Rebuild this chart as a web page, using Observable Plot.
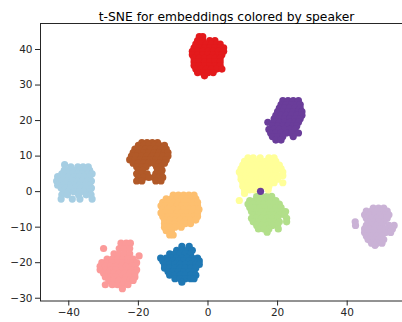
<!DOCTYPE html>
<html><head><meta charset="utf-8">
<script src="https://cdn.jsdelivr.net/npm/d3@7"></script>
<script src="https://cdn.jsdelivr.net/npm/@observablehq/plot@0.6"></script>
<style>
html,body{margin:0;padding:0;background:#fff;overflow:hidden;}
#wrap{width:402px;height:322px;overflow:hidden;}
#wrap svg{max-width:none !important;}
</style></head><body><div id="wrap"></div>
<script>
const title = "t-SNE for embeddings colored by speaker";
const speakers = [0, 1, 2, 3, 4, 5, 6, 7, 8, 9];
const colors = ["#a6cee3", "#1f78b4", "#b2df8a", "#fb9a99", "#e31a1c", "#fdbf6f", "#cab2d6", "#6a3d9a", "#ffff99", "#b15928"];
const xTicks = [-40, -20, 0, 20, 40];
const yTicks = [-30, -20, -10, 0, 10, 20, 30, 40];

// each row: [y, x, x, ...]
const speaker0 = [
  [7.6, -41.2],
  [7.0, -39.4, -37.4, -35.9, -34.4],
  [6, -41.3, -40, -38.5, -37, -35.5, -34],
  [5, -42, -40.5, -39, -37.5, -36, -34.5, -33.3],
  [4.2, -43.2, -41.5, -40, -38.5, -37, -35.5, -34],
  [3, -43.5, -42, -40.5, -39, -37.5, -36, -34.5, -33.5],
  [1.8, -43.2, -41.5, -40, -38.5, -37, -35.5, -34],
  [1, -42.2, -41, -39.5, -38, -36.5, -35, -33.5],
  [0, -41.5, -40, -38.5, -37, -35.5, -34],
  [-0.9, -42, -40.4, -37.2, -35, -33.6],
  [-2.1, -42.2, -39, -36.8, -33.3]
];
const speaker1 = [
  [-15.4, -7.5, -5.4],
  [-16.5, -9, -7.5, -6, -4.5],
  [-17.5, -11, -9.5, -8, -6.5, -5],
  [-18.7, -13.6, -12, -10.5, -9, -7.5, -6, -4.5, -3],
  [-19.5, -13, -11.5, -10, -8.5, -7, -5.5, -4, -2.5],
  [-20.5, -12.5, -11, -9.5, -8, -6.5, -5, -3.5, -2.5],
  [-21.5, -12.5, -11, -9.5, -8, -6.5, -5, -3.5],
  [-22.5, -11.5, -10, -8.5, -7, -5.5, -4],
  [-23.5, -11, -9.5, -8, -6.5, -5, -3.5],
  [-24.5, -9.5, -8, -6.5, -5, -4],
  [-25.5, -7.5]
];
const speaker2 = [
  [-1.3, 14, 15.5, 17, 18.3],
  [-2.5, 12, 13.5, 15, 16.5, 18, 19.5],
  [-3.5, 11.5, 13, 14.5, 16, 17.5, 19, 20.5],
  [-4.5, 12, 13.5, 15, 16.5, 18, 19.5, 21],
  [-5.6, 12.5, 14, 15.5, 17, 18.5, 20, 21.5, 22.3],
  [-6.5, 13, 14.5, 16, 17.5, 19, 20.5, 22],
  [-7.5, 12.5, 14, 15.5, 17, 18.5, 20, 22.6],
  [-8.5, 13, 14.5, 16, 17.5, 19, 20.5, 22.6],
  [-9.5, 14, 15.5, 17, 18.5, 20],
  [-10.5, 14.5, 16, 17.5, 20.2],
  [-11.4, 17]
];
const speaker3 = [
  [-14.5, -25, -23.5, -22.3],
  [-16, -30, -25.5, -24, -22.5],
  [-17.5, -27, -25.5, -24, -22.5],
  [-18.1, -19.8],
  [-19, -29, -27.5, -26, -24.5, -23, -21.5],
  [-20, -30.5, -29, -27.5, -26, -24.5, -23, -21.5, -20.5],
  [-21, -31, -29.5, -28, -26.5, -25, -23.5, -22, -21],
  [-22, -31, -29.5, -28, -26.5, -25, -23.5, -22, -20.5],
  [-23, -30, -28.5, -27, -25.5, -24, -22.5, -21],
  [-24, -29.5, -28, -26.5, -25, -23.5, -22, -21],
  [-25, -28.5, -27, -25.5, -24, -22.5, -21.5],
  [-26.2, -29.5, -27.5, -26, -24.5, -23],
  [-27.3, -24.6]
];
const speaker4 = [
  [43.6, -2.5, -1.5],
  [42.5, -3, -1.5, 0.5, 2],
  [41.5, -3.5, -2, -0.5, 1, 2.5, 3.5],
  [40.5, -4, -2.5, -1, 0.5, 2, 3.5, 4.5],
  [39.5, -4.5, -3, -1.5, 0, 1.5, 3, 4.5],
  [38.5, -4.5, -3, -1.5, 0, 1.5, 3, 4],
  [37.5, -4, -2.5, -1, 0.5, 2, 3.5],
  [36.5, -4, -2.5, -1, 0.5, 2, 3.5],
  [35.5, -4, -2.5, -1, 0.5, 2, 3.5],
  [34.5, -3.5, -2, -0.5, 1, 2.5, 4],
  [33.5, -3, -1.5, 0, 1.5],
  [32.6, -1]
];
const speaker5 = [
  [-1, -10, -8.5, -7, -5.5, -4],
  [-2, -12, -10.5, -9, -7.5, -6, -4.5, -3.5],
  [-3, -13, -11.5, -10, -8.5, -7, -5.5, -4, -3],
  [-4, -13.5, -12, -10.5, -9, -7.5, -6, -4.5, -3],
  [-5, -13, -11.5, -10, -8.5, -7, -5.5, -4, -2.6],
  [-6, -13.5, -12, -10.5, -9, -7.5, -6, -4.5, -3],
  [-7, -13, -11.5, -10, -8.5, -7, -5.5, -4, -3],
  [-8, -12.5, -11, -9.5, -8, -6.5, -5, -3.5],
  [-9, -12.5, -11, -9.5, -8, -6.5, -5],
  [-10, -12.5, -11, -9.5, -7.7],
  [-11, -12, -10.5],
  [-12.2, -11, -10]
];
const speaker6 = [
  [-4.6, 47.5, 49, 50.5],
  [-5.5, 45.5, 47, 48.5, 50, 51.5],
  [-6.5, 45, 46.5, 48, 49.5, 51, 52],
  [-7.5, 45.5, 47, 48.5, 50, 51.5],
  [-8.5, 42.3, 46, 47.5, 49, 50.5],
  [-9.5, 42.4, 45.5, 47, 48.5, 50, 52, 53.5],
  [-10.5, 45, 46.5, 48, 49.5, 51, 53],
  [-11.5, 45, 46.5, 48, 49.5, 51, 52.5],
  [-12.5, 45.5, 47, 48.5, 50],
  [-13.5, 46, 47.5, 49, 50.5],
  [-14.5, 47, 48.5, 50],
  [-15.1, 48]
];
const speaker7 = [
  [25.6, 21.5, 23, 24.5, 26],
  [24.5, 21, 22.5, 24, 25.5, 26.5],
  [23.5, 20.5, 22, 23.5, 25, 26.5],
  [22.5, 20, 21.5, 23, 24.5, 26, 27],
  [21.5, 19.5, 21, 22.5, 24, 25.5, 27],
  [20.5, 19, 20.5, 22, 23.5, 25, 26.5],
  [19.5, 17.2, 19, 20.5, 22, 23.5, 25, 26],
  [18.5, 18.5, 20, 21.5, 23, 24.5, 25.5],
  [17.5, 17.5, 19, 20.5, 22, 23.5, 25],
  [16.5, 18, 19.5, 21, 22.5, 24, 26],
  [15.5, 18.5, 20, 21.5, 24.5],
  [14.5, 19.5, 21],
  [0.1, 15.1]
];
const speaker8 = [
  [9.5, 11.5, 13, 15, 17.5, 19],
  [8.5, 10.5, 12, 13.5, 15, 16.5, 18, 19.5],
  [7.5, 10, 11.5, 13, 14.5, 16, 17.5, 19, 20.5],
  [6.5, 9.5, 11, 12.5, 14, 15.5, 17, 18.5, 20, 21],
  [5.5, 9, 10.5, 12, 13.5, 15, 16.5, 18, 19.5, 21.5],
  [4.5, 9.5, 11, 12.5, 14, 15.5, 17, 18.5, 20, 21.5],
  [3.5, 9.5, 11, 12.5, 14, 15.5, 17, 18.5, 20],
  [2.5, 10, 11.5, 13, 14.5, 16, 17.5, 19, 21.5],
  [1.5, 10, 11.5, 13, 14.5, 16, 17.5],
  [0.5, 10.5, 12, 13.3, 17.3],
  [-0.5, 10.5],
  [-2.5, 9]
];
const speaker9 = [
  [13.8, -19, -17.5, -16, -14.5],
  [13, -20, -18.5, -17, -15.5, -14, -12.5],
  [12, -21, -19.5, -18, -16.5, -15, -13.5, -12],
  [11, -21.5, -20, -18.5, -17, -15.5, -14, -12.5, -11.5],
  [10, -22, -20.5, -19, -17.5, -16, -14.5, -13, -11.5],
  [9, -22.5, -21, -19.5, -18, -16.5, -15, -13.5, -12],
  [8, -21.5, -20, -18.5, -17, -15.5, -14, -12.5],
  [7, -20.5, -19, -17.8, -14.8, -13.5],
  [6, -20, -18.8, -14.5, -13.2],
  [5, -20.5, -19, -17.5, -15, -13.5],
  [4, -20, -18.5, -17, -15.5, -14, -13],
  [3, -20.5, -19, -15, -13.5]
];

const clusters = [speaker0, speaker1, speaker2, speaker3, speaker4, speaker5, speaker6, speaker7, speaker8, speaker9];
const drawOrder = [0, 1, 2, 3, 4, 5, 6, 8, 9, 7];
const points = [];
for (const s of drawOrder) {
  for (const row of clusters[s]) {
    for (const x of row.slice(1)) points.push({speaker: s, x, y: row[0]});
  }
}

const chart = Plot.plot({
  width: 412,
  height: 322,
  marginLeft: 40,
  marginRight: 0,
  marginTop: 23,
  marginBottom: 21.5,
  x: {domain: [-48.13, 58.77], ticks: xTicks, tickSize: 5, tickPadding: 3, label: null},
  y: {domain: [-30.78, 47.32], ticks: yTicks, tickSize: 5, tickPadding: 3, label: null},
  color: {type: "ordinal", domain: speakers, range: colors},
  style: {fontFamily: "DejaVu Sans", fontSize: "10.5px", color: "#262626", background: "#fff", maxWidth: "none"},
  marks: [
    Plot.dot(points, {x: "x", y: "y", fill: "speaker", r: 3.6}),
    Plot.frame({stroke: "#262626", strokeWidth: 1}),
    Plot.text([title], {text: d => d, frameAnchor: "top", dy: -11, fontSize: 12.3, fill: "#000"})
  ]
});
chart.style.maxWidth = "none";
document.getElementById("wrap").appendChild(chart);
</script>
</body></html>
